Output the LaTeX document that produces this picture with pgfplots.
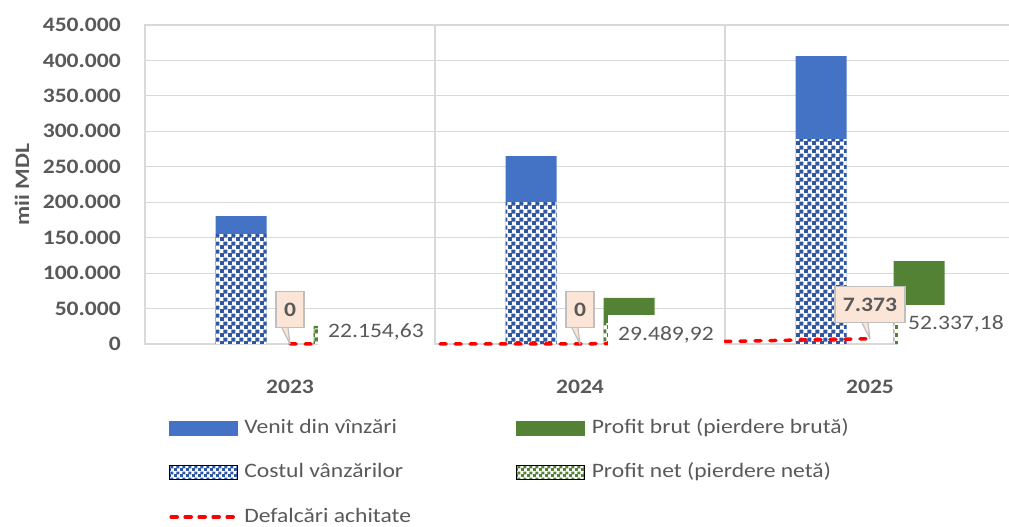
\documentclass[border=0pt]{standalone}
\usepackage{fontspec}
\setmainfont{Carlito}[FakeStretch=1.15]
\usepackage{pgfplots}
\usepackage{pgfplotstable}
\pgfplotsset{compat=1.18}
\usetikzlibrary{patterns.meta}
\definecolor{venit}{HTML}{4472C4}
\definecolor{costul}{HTML}{2F56A2}
\definecolor{brut}{HTML}{548235}
\definecolor{gridgray}{HTML}{D9D9D9}
\definecolor{textgray}{HTML}{595959}
\definecolor{callfill}{HTML}{FBE5D6}
\definecolor{callborder}{HTML}{BFBFBF}
\newcommand\cf{\fontsize{20.5pt}{24pt}\selectfont}
\tikzdeclarepattern{
  name=checker,
  type=uncolored,
  bottom left={(0pt,0pt)},
  top right={(7.6pt,7.6pt)},
  tile size={(7.6pt,7.6pt)},
  code={
    \fill (-0.2pt,-0.2pt) rectangle (4.0pt,4.0pt);
    \fill (3.6pt,3.6pt) rectangle (7.8pt,7.8pt);
  }
}
\tikzdeclarepattern{
  name=checkersmall,
  type=uncolored,
  bottom left={(0pt,0pt)},
  top right={(5.6pt,5.6pt)},
  tile size={(5.6pt,5.6pt)},
  code={
    \fill (-0.15pt,-0.15pt) rectangle (2.95pt,2.95pt);
    \fill (2.65pt,2.65pt) rectangle (5.75pt,5.75pt);
  }
}
\pgfplotstableread{
x y
0 180500
1 265000
2 406000
}\venittab
\pgfplotstableread{
x y
0 155000
1 200000
2 289000
}\costtab
\pgfplotstableread{
x y
0 25500
1 65000
2 117000
}\bruttab
\pgfplotstableread{
x y
0 22154.63
1 29489.92
2 52337.18
}\nettab
\pgfplotstableread{
x y lab
0 16200 22.154,63
1 12000 29.489,92
2 27500 52.337,18
}\netlab
\pgfplotstableread{
x y lab
0 0 0
1 0 0
2 7373 7.373
}\deftab
\begin{document}
\begin{tikzpicture}
\path[use as bounding box] (0pt,0pt) rectangle (1009pt,527pt);
\begin{axis}[
  at={(145pt,183pt)}, anchor=south west,
  scale only axis, width=870pt, height=319pt,
  clip=false,
  xmin=-0.5, xmax=2.5, ymin=0, ymax=450000,
  xtick={0,1,2}, xticklabels={2023,2024,2025},
  minor xtick={-0.5,0.5,1.5,2.5},
  xminorgrids=true, xmajorgrids=false, ymajorgrids=true,
  ytick={0,50000,...,450000},
  scaled y ticks=false,
  /pgf/number format/.cd, fixed, precision=0, 1000 sep={.}, assume math mode=true,
  /pgfplots/.cd,
  major tick length=0pt, minor tick length=0pt,
  tick style={draw=none},
  axis line style={draw=gridgray, line width=1.2pt},
  grid style={draw=gridgray, line width=1.2pt},
  minor grid style={draw=gridgray, line width=1.2pt},
  yticklabel style={anchor=east, inner sep=0pt, xshift=-24pt, font=\cf\bfseries, text=textgray},
  xticklabel style={anchor=north, inner sep=0pt, yshift=-36pt, font=\cf\bfseries, text=textgray},
  ylabel={mii MDL},
  every axis y label/.style={at={(axis description cs:-0.1414,0.5)}, rotate=90, anchor=center, font=\cf\bfseries, text=textgray},
  legend columns=2,
  legend cell align=left,
  legend style={at={(axis description cs:0.02759,-0.232)}, anchor=north west,
    draw=none, fill=none, inner sep=0pt, outer sep=0pt, row sep=24.5pt,
    font=\cf, text=textgray,
    cells={anchor=west},
    nodes={inner sep=0pt, text height=15pt, text depth=5pt},
    /tikz/every odd column/.append style={column sep=7pt}},
]
% bars
\addplot[forget plot, ybar, bar width=51pt, bar shift=-49pt, fill=venit, draw=none] table[x=x,y=y]{\venittab};
\addplot[forget plot, ybar, bar width=51pt, bar shift=-49pt, fill=white, draw=none,
  postaction={pattern=checker, pattern color=costul}] table[x=x,y=y]{\costtab};
\addplot[forget plot, ybar, bar width=51pt, bar shift=49pt, fill=brut, draw=none] table[x=x,y=y]{\bruttab};
\addplot[forget plot, ybar, bar width=51pt, bar shift=49pt, fill=white, draw=none,
  postaction={pattern=checker, pattern color=brut}] table[x=x,y=y]{\nettab};
% line
\addplot[forget plot, color=red, line width=3.5pt, dash pattern=on 6pt off 9pt, line cap=round, mark=none] table[x=x,y=y]{\deftab};
% net labels
\addplot[forget plot, draw=none, mark=none, nodes near coords, point meta=explicit symbolic,
  every node near coord/.append style={anchor=west, fill=white, inner xsep=10pt, inner ysep=10pt,
    text height=15pt, text depth=5pt, xshift=28pt, font=\cf, text=textgray}]
  table[x=x,y=y,meta=lab]{\netlab};
% callouts
\addplot[forget plot, draw=none, mark=none, nodes near coords, point meta=explicit symbolic,
  every node near coord/.append style={rectangle, anchor=south, yshift=15.5pt,
    fill=callfill, draw=callborder, line width=1.2pt, font=\cf\bfseries, text=textgray,
    minimum height=36pt, inner xsep=8pt, inner ysep=0pt,
    append after command={\pgfextra{
      \fill[callfill] ([xshift=-8pt,yshift=1.4pt]\tikzlastnode.south) -- ([yshift=-15.5pt]\tikzlastnode.south) -- ([xshift=-2pt,yshift=1.4pt]\tikzlastnode.south) -- cycle;
      \draw[callborder, line width=1.2pt, line join=round] ([xshift=-8pt,yshift=0.6pt]\tikzlastnode.south) -- ([yshift=-15.5pt]\tikzlastnode.south) -- ([xshift=-2pt,yshift=0.6pt]\tikzlastnode.south);
    }}}]
  table[x=x,y=y,meta=lab]{\deftab};
% legend
\addlegendimage{legend image code/.code={\fill[venit] (0pt,-7pt) rectangle (68pt,7pt);}}
\addlegendentry{\makebox[272pt][l]{Venit din vînzări}}
\addlegendimage{legend image code/.code={\fill[brut] (0pt,-7pt) rectangle (68pt,7pt);}}
\addlegendentry{Profit brut (pierdere brută)}
\addlegendimage{legend image code/.code={\fill[white] (0pt,-7pt) rectangle (68pt,7pt);
  \fill[pattern=checkersmall, pattern color=costul] (0pt,-7pt) rectangle (68pt,7pt);}}
\addlegendentry{\makebox[272pt][l]{Costul vânzărilor}}
\addlegendimage{legend image code/.code={\fill[white] (0pt,-7pt) rectangle (68pt,7pt);
  \fill[pattern=checkersmall, pattern color=brut] (0pt,-7pt) rectangle (68pt,7pt);}}
\addlegendentry{Profit net (pierdere netă)}
\addlegendimage{legend image code/.code={\draw[red, line width=3.5pt, dash pattern=on 6pt off 8pt, line cap=round] (2pt,0pt) -- (66pt,0pt);}}
\addlegendentry{\makebox[272pt][l]{Defalcări achitate}}
\end{axis}
\end{tikzpicture}
\end{document}
